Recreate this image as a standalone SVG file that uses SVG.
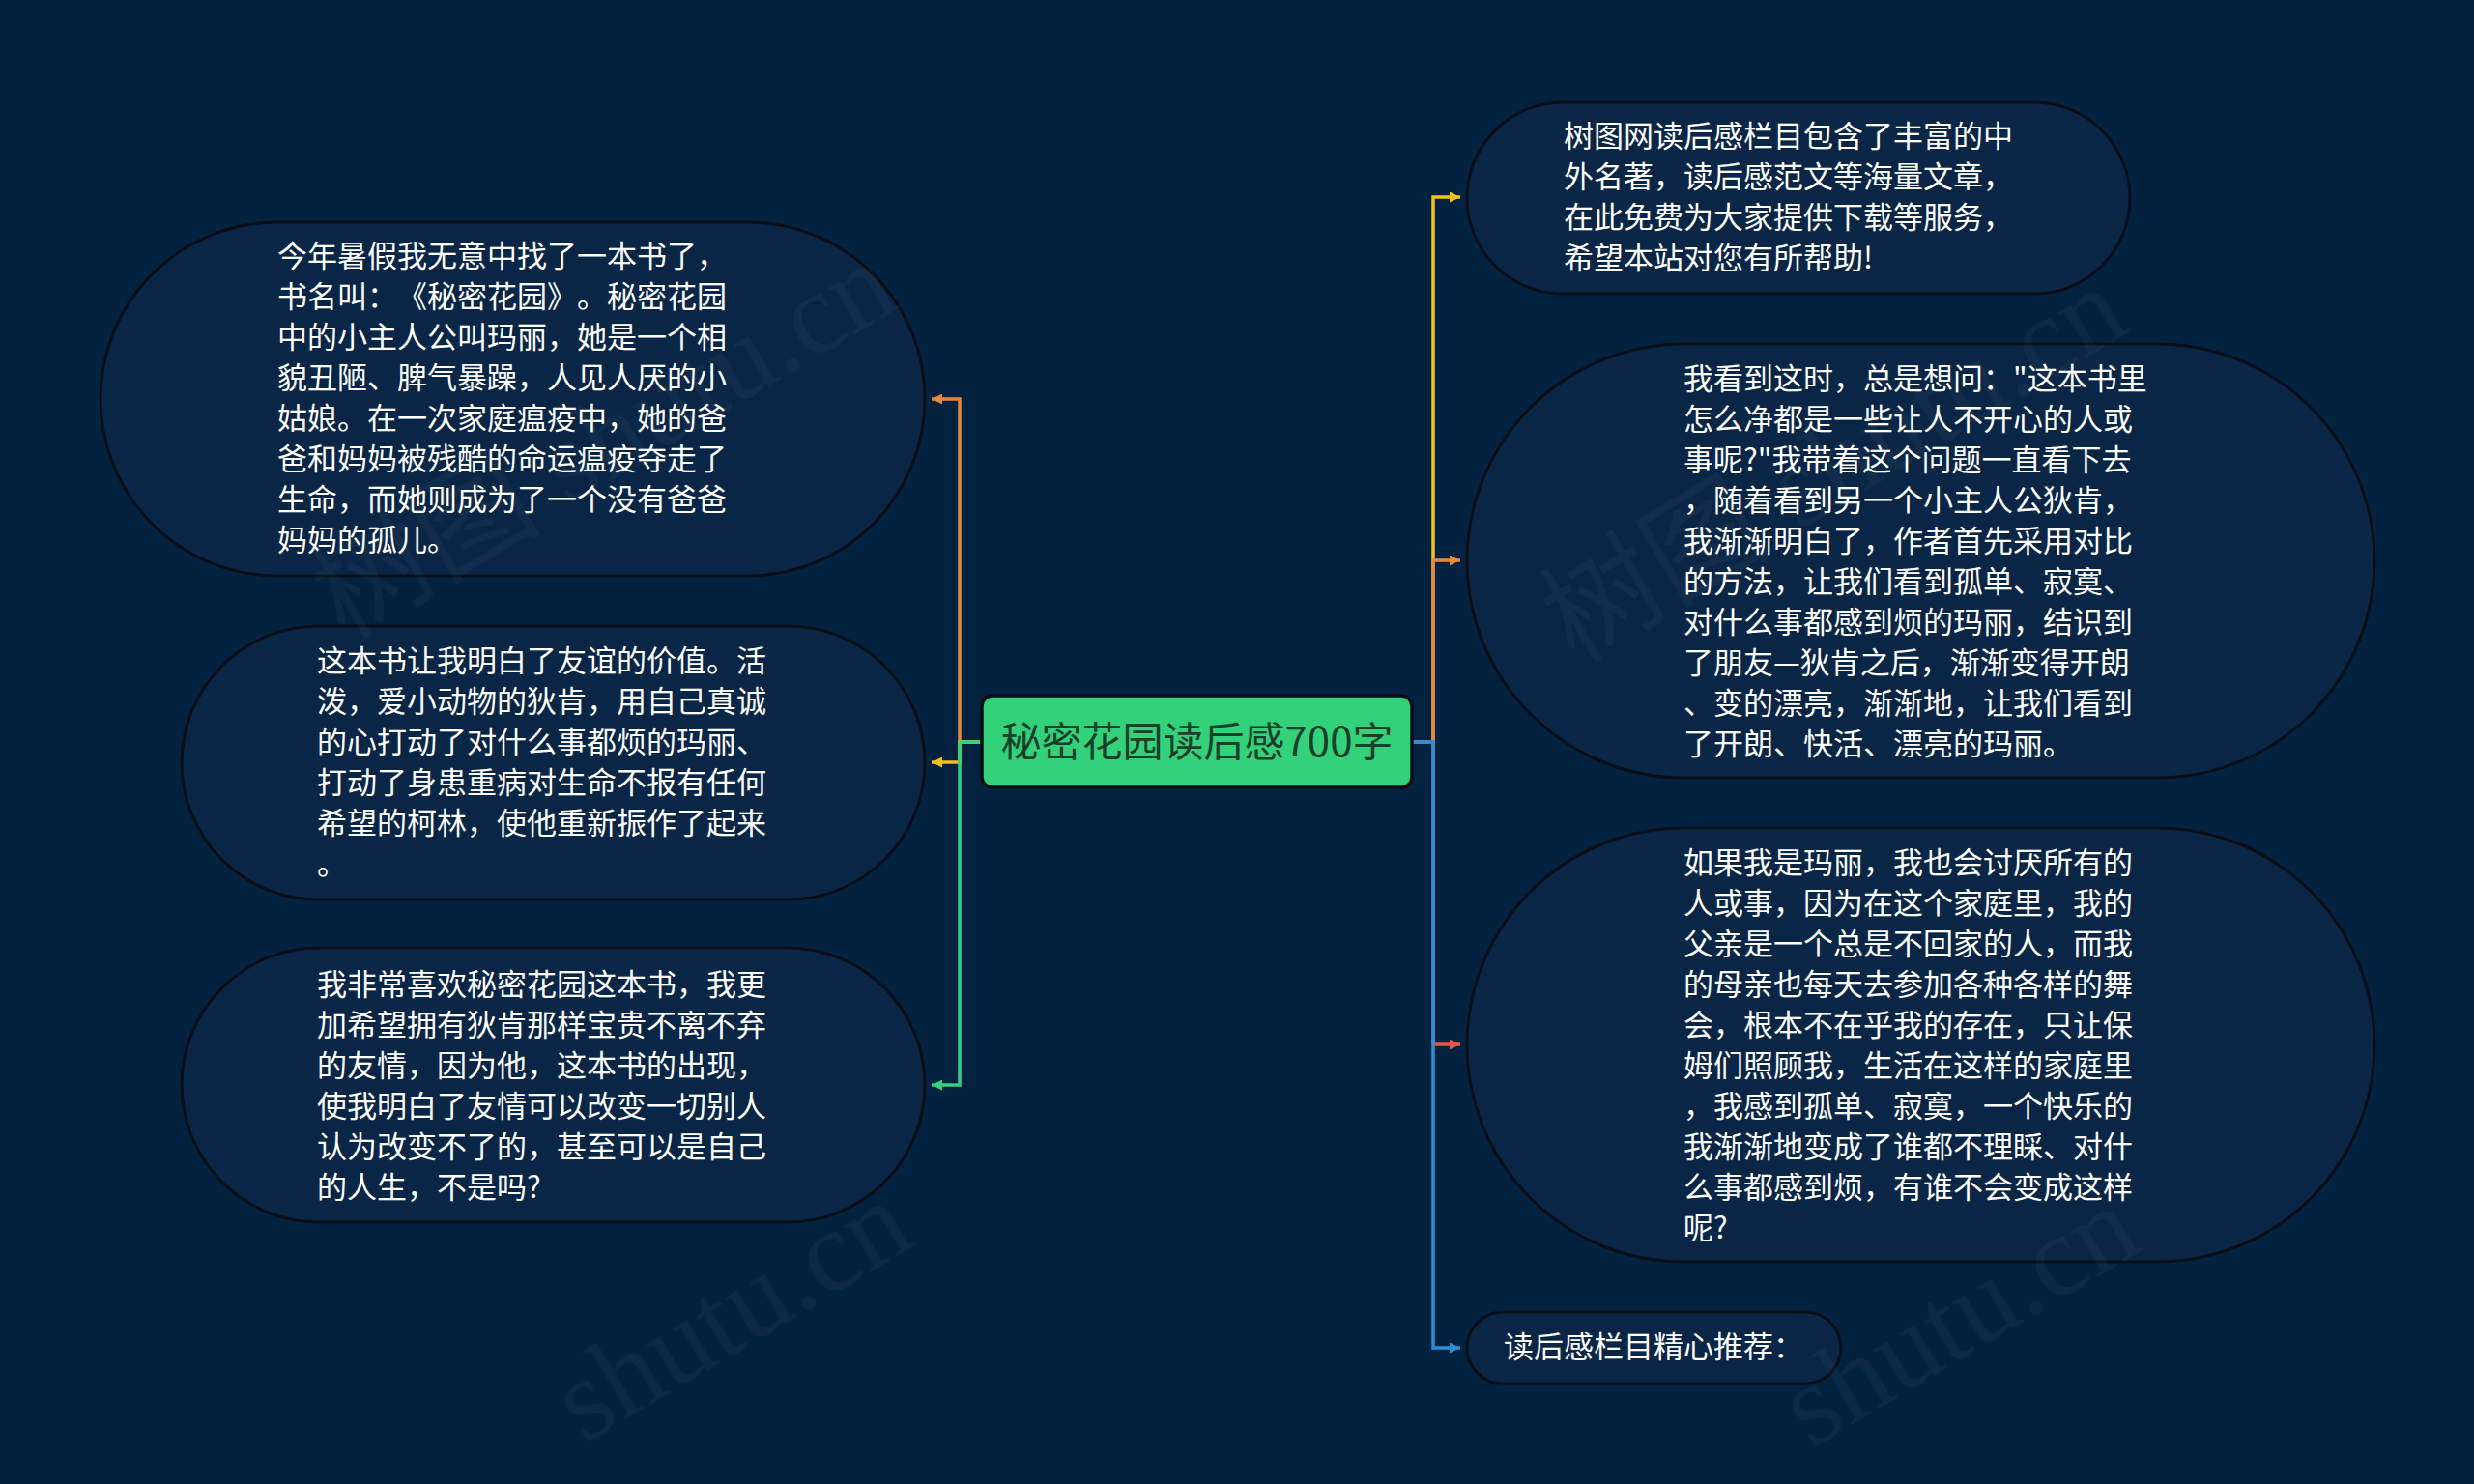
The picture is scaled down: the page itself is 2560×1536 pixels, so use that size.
<svg xmlns="http://www.w3.org/2000/svg" width="2560" height="1536" viewBox="0 0 2560 1536">
<defs>
<style>
text{text-spacing-trim:space-all}
.node{fill:#0a2646;stroke:#0a0e16;stroke-width:3}
.t{font-family:"Noto Sans CJK SC","Noto Sans",sans-serif;font-size:31px;fill:#ffffff}
.c{fill:none;stroke-width:3.5}
.wm{font-family:"Liberation Serif","Noto Sans CJK SC",serif;font-size:120px;fill:#ffffff;fill-opacity:0.035}
</style>
<marker id="aO" viewBox="0 0 10 10" refX="10" refY="5" markerUnits="userSpaceOnUse" markerWidth="13" markerHeight="11" orient="auto"><path d="M0,0 L10,5 L0,10 z" fill="#e8893a"/></marker>
<marker id="aY" viewBox="0 0 10 10" refX="10" refY="5" markerUnits="userSpaceOnUse" markerWidth="13" markerHeight="11" orient="auto"><path d="M0,0 L10,5 L0,10 z" fill="#f2c21b"/></marker>
<marker id="aG" viewBox="0 0 10 10" refX="10" refY="5" markerUnits="userSpaceOnUse" markerWidth="13" markerHeight="11" orient="auto"><path d="M0,0 L10,5 L0,10 z" fill="#35d07f"/></marker>
<marker id="aR" viewBox="0 0 10 10" refX="10" refY="5" markerUnits="userSpaceOnUse" markerWidth="13" markerHeight="11" orient="auto"><path d="M0,0 L10,5 L0,10 z" fill="#e5574a"/></marker>
<marker id="aB" viewBox="0 0 10 10" refX="10" refY="5" markerUnits="userSpaceOnUse" markerWidth="13" markerHeight="11" orient="auto"><path d="M0,0 L10,5 L0,10 z" fill="#2b8fd6"/></marker>
</defs>
<rect width="2560" height="1536" fill="#032240"/>

<g id="connectors">
<path class="c" stroke="#e8893a" d="M1016,768 H993 V413 H964" marker-end="url(#aO)"/>
<path class="c" stroke="#f2c21b" d="M1016,768 H993 V789 H964" marker-end="url(#aY)"/>
<path class="c" stroke="#35d07f" d="M1016,768 H993 V1123 H964" marker-end="url(#aG)"/>
<path class="c" stroke="#f2c21b" d="M1461,768 H1483 V204 H1511" marker-end="url(#aY)"/>
<path class="c" stroke="#e8893a" d="M1461,768 H1483 V580 H1511" marker-end="url(#aO)"/>
<path class="c" stroke="#e5574a" d="M1461,768 H1483 V1081 H1511" marker-end="url(#aR)"/>
<path class="c" stroke="#2b8fd6" d="M1461,768 H1483 V1395 H1511" marker-end="url(#aB)"/>
</g>

<g id="center">
<rect x="1016" y="720" width="445" height="95" rx="11" fill="#33d17a" stroke="#0a0e16" stroke-width="3.5"/>
<text x="1238.5" y="783" text-anchor="middle" font-family="Noto Sans CJK SC, Noto Sans, sans-serif" font-size="42" fill="#17402a">秘密花园读后感700字</text>
</g>

<g id="node-l1">
<rect class="node" x="104" y="230" width="853" height="366" rx="183"/>
<text class="t"><tspan x="287" y="276">今年暑假我无意中找了一本书了，</tspan><tspan x="287" y="318">书名叫：《秘密花园》。秘密花园</tspan><tspan x="287" y="360">中的小主人公叫玛丽，她是一个相</tspan><tspan x="287" y="402">貌丑陋、脾气暴躁，人见人厌的小</tspan><tspan x="287" y="444">姑娘。在一次家庭瘟疫中，她的爸</tspan><tspan x="287" y="486">爸和妈妈被残酷的命运瘟疫夺走了</tspan><tspan x="287" y="528">生命，而她则成为了一个没有爸爸</tspan><tspan x="287" y="570">妈妈的孤儿。</tspan></text>
</g>

<g id="node-l2">
<rect class="node" x="188" y="648" width="769" height="283" rx="141.5"/>
<text class="t"><tspan x="328" y="695">这本书让我明白了友谊的价值。活</tspan><tspan x="328" y="737">泼，爱小动物的狄肯，用自己真诚</tspan><tspan x="328" y="779">的心打动了对什么事都烦的玛丽、</tspan><tspan x="328" y="821">打动了身患重病对生命不报有任何</tspan><tspan x="328" y="863">希望的柯林，使他重新振作了起来</tspan><tspan x="328" y="905">。</tspan></text>
</g>

<g id="node-l3">
<rect class="node" x="188" y="981" width="769" height="284" rx="142"/>
<text class="t"><tspan x="328" y="1030">我非常喜欢秘密花园这本书，我更</tspan><tspan x="328" y="1072">加希望拥有狄肯那样宝贵不离不弃</tspan><tspan x="328" y="1114">的友情，因为他，这本书的出现，</tspan><tspan x="328" y="1156">使我明白了友情可以改变一切别人</tspan><tspan x="328" y="1198">认为改变不了的，甚至可以是自己</tspan><tspan x="328" y="1240">的人生，不是吗?</tspan></text>
</g>

<g id="node-r1">
<rect class="node" x="1518" y="106" width="686" height="198" rx="99"/>
<text class="t"><tspan x="1618" y="152">树图网读后感栏目包含了丰富的中</tspan><tspan x="1618" y="194">外名著，读后感范文等海量文章，</tspan><tspan x="1618" y="236">在此免费为大家提供下载等服务，</tspan><tspan x="1618" y="278">希望本站对您有所帮助!</tspan></text>
</g>

<g id="node-r2">
<rect class="node" x="1518" y="356" width="939" height="449" rx="224.5"/>
<text class="t"><tspan x="1742" y="403">我看到这时，总是想问："这本书里</tspan><tspan x="1742" y="445">怎么净都是一些让人不开心的人或</tspan><tspan x="1742" y="487">事呢?"我带着这个问题一直看下去</tspan><tspan x="1742" y="529">，随着看到另一个小主人公狄肯，</tspan><tspan x="1742" y="571">我渐渐明白了，作者首先采用对比</tspan><tspan x="1742" y="613">的方法，让我们看到孤单、寂寞、</tspan><tspan x="1742" y="655">对什么事都感到烦的玛丽，结识到</tspan><tspan x="1742" y="697">了朋友—狄肯之后，渐渐变得开朗</tspan><tspan x="1742" y="739">、变的漂亮，渐渐地，让我们看到</tspan><tspan x="1742" y="781">了开朗、快活、漂亮的玛丽。</tspan></text>
</g>

<g id="node-r3">
<rect class="node" x="1518" y="857" width="939" height="449" rx="224.5"/>
<text class="t"><tspan x="1742" y="904">如果我是玛丽，我也会讨厌所有的</tspan><tspan x="1742" y="946">人或事，因为在这个家庭里，我的</tspan><tspan x="1742" y="988">父亲是一个总是不回家的人，而我</tspan><tspan x="1742" y="1030">的母亲也每天去参加各种各样的舞</tspan><tspan x="1742" y="1072">会，根本不在乎我的存在，只让保</tspan><tspan x="1742" y="1114">姆们照顾我，生活在这样的家庭里</tspan><tspan x="1742" y="1156">，我感到孤单、寂寞，一个快乐的</tspan><tspan x="1742" y="1198">我渐渐地变成了谁都不理睬、对什</tspan><tspan x="1742" y="1240">么事都感到烦，有谁不会变成这样</tspan><tspan x="1742" y="1282">呢?</tspan></text>
</g>

<g id="node-r4">
<rect class="node" x="1518" y="1358" width="387" height="74" rx="37"/>
<text class="t" x="1556" y="1405">读后感栏目精心推荐：</text>
</g>

<g id="watermark">
<text class="wm" text-anchor="middle" transform="translate(645,490) rotate(-31)">树图 shutu.cn</text>
<text class="wm" text-anchor="middle" transform="translate(1918,515) rotate(-31)">树图 shutu.cn</text>
<text class="wm" transform="translate(604,1495) rotate(-31)">shutu.cn</text>
<text class="wm" transform="translate(1874,1500) rotate(-31)">shutu.cn</text>
</g>
</svg>
